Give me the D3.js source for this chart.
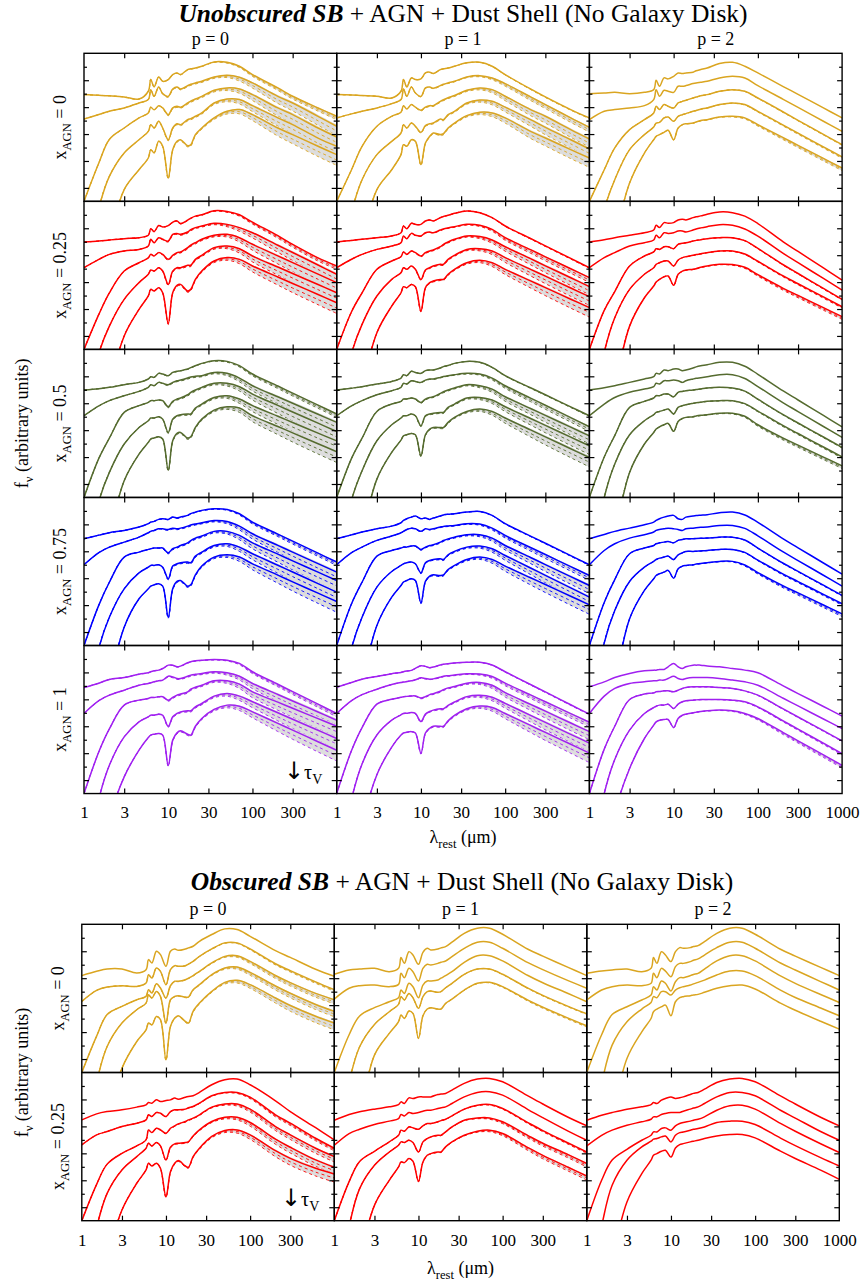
<!DOCTYPE html>
<html><head><meta charset="utf-8">
<script src="https://cdn.jsdelivr.net/npm/d3@7"></script>
<style>body{margin:0;background:#fff}svg{display:block}</style>
</head><body><script>
// ---------- DATA ----------
// wavelength grid (micron)
const lambda = [1, 1.5, 2, 3, 4.5, 5.8, 6.2, 6.8, 7.7, 8.6, 10, 11.3, 12.7, 14, 17, 18.5, 21, 25, 35, 50, 70, 100, 200, 300, 600, 1000];
const xTickVals = [1, 3, 10, 30, 100, 300, 1000];
const yMajor = [1, 3, 5, 7, 9];
const yMinor = [2, 4, 6, 8, 10];
const pLabels = ["0", "1", "2"];
const xagnTop = ["0", "0.25", "0.5", "0.75", "1"];
const xagnBottom = ["0", "0.25"];
const rowColorsTop = ["#daa520", "#ff0000", "#556b2f", "#0000ff", "#a020f0"];
const rowColorsBottom = ["#daa520", "#ff0000"];
// relative width of model spread (grey band) along the grid
const spreadProfile = [0,0,0,0,0,0,0,0,0,0.05,0.1,0.1,0.1,0.1,0.12,0.12,0.12,0.12,0.15,0.25,0.4,0.55,0.75,0.85,0.95,1];
// spread amplitude per p (columns) per curve
const unobSpreadP0 = [0.25, 0.7, 0.8, 0.8, 0.8];
const unobSpreadP1 = [0.05, 0.35, 0.6, 0.65, 0.7];
const unobSpreadP2 = [0, 0, 0.05, 0.1, 0.2];
const obsSpreadX0 = [[0, 0.12, 0.3, 0.4, 0.5], [0, 0, 0, 0.05, 0.1], [0, 0, 0, 0, 0]];
const obsSpreadX025 = [[0, 0.2, 0.4, 0.5, 0.6], [0, 0, 0.1, 0.25, 0.3], [0, 0, 0, 0, 0]];

// Unobscured SB, x_AGN = 0
const unobX0P0 = [
 [7.93,7.88,7.84,7.76,7.6,8.18,9.05,8.5,9.24,8.92,9.05,9.42,9.54,9.42,9.79,9.85,9.91,10.04,10.36,10.33,10.04,9.42,8.43,7.81,6.94,6.32],
 [6.12,6.45,6.69,6.94,7.31,7.56,8.3,7.8,8.5,8.0,7.8,8.35,8.5,8.35,8.6,8.7,8.8,8.92,9.24,9.37,9.22,8.8,7.8,7.31,6.32,5.58],
 [0,2.85,4.6,5.45,6.2,6.57,7.0,6.8,7.1,6.94,6.44,6.94,7.06,7.0,7.31,7.45,7.6,7.8,8.25,8.43,8.35,7.93,6.94,6.44,5.45,4.78],
 [-6,-0.5,1.86,3.6,4.58,5.2,5.7,5.45,5.95,5.45,4.58,5.45,5.77,5.7,6.07,6.15,6.32,6.57,7.31,7.6,7.56,7.11,6.2,5.7,4.7,4.09],
 [-14,-8,-3,0.87,2.35,3.22,3.84,3.6,4.46,4.09,1.73,3.84,4.46,4.58,4.14,4.2,4.96,5.45,6.2,6.69,6.82,6.44,5.45,4.96,4.09,3.47]];
const unobX0P1 = [
 [7.93,7.9,7.86,7.81,7.68,8.18,9.05,8.5,9.17,9.05,9.1,9.54,9.6,9.5,9.79,9.85,9.91,10.04,10.29,10.33,10.04,9.42,8.35,7.76,6.82,6.2],
 [6.2,6.5,6.69,6.94,7.26,7.56,8.35,7.8,8.5,8.05,7.8,8.43,8.5,8.4,8.6,8.7,8.8,8.92,9.24,9.34,9.17,8.75,7.76,7.19,6.2,5.5],
 [0,2.35,4.09,5.58,6.32,6.62,7.11,6.86,7.19,7.0,6.77,7.0,7.11,7.11,7.43,7.55,7.7,7.86,8.25,8.43,8.3,7.81,6.82,6.32,5.33,4.63],
 [-6,-0.8,1.6,3.47,4.46,5.08,5.7,5.45,5.82,5.58,5.13,5.63,5.77,5.82,6.12,6.07,6.44,6.69,7.31,7.53,7.43,7.0,6.07,5.5,4.58,3.89],
 [-14,-8,-3,0.87,2.35,3.47,4.21,4.09,4.58,4.46,2.73,4.34,4.83,5.08,4.96,5.03,5.45,5.82,6.37,6.62,6.57,6.2,5.2,4.71,3.84,3.22]];
const unobX0P2 = [
 [8.0,8.05,8.1,8.0,8.1,8.3,9.0,8.55,9.17,9.1,9.29,9.54,9.49,9.54,9.59,9.7,9.79,9.91,10.24,10.33,10.04,9.54,8.53,7.95,6.94,6.2],
 [6.07,6.69,6.82,6.94,7.11,7.56,8.3,7.81,8.25,8.18,8.1,8.55,8.55,8.6,8.75,8.8,8.85,8.92,9.17,9.29,9.17,8.6,7.58,6.98,5.95,5.2],
 [0,2.35,3.97,5.33,6.07,6.57,7.06,6.82,7.19,7.06,6.94,7.31,7.43,7.51,7.68,7.75,7.85,7.93,8.18,8.3,8.18,7.68,6.64,6.02,4.98,4.21],
 [-6,-0.6,1.61,3.84,4.96,5.53,5.82,5.87,6.2,6.27,5.95,6.32,6.44,6.52,6.69,6.75,6.85,6.94,7.19,7.31,7.19,6.69,5.67,5.07,4.05,3.3],
 [-14,-8,-3,1.36,3.59,4.58,4.83,4.96,5.13,5.28,4.58,5.45,5.7,5.77,5.82,5.9,6.0,6.07,6.27,6.32,6.2,5.7,4.73,4.16,3.19,2.48]];
// x_AGN = 0.25
const unobX025P0 = [
 [7.98,8.05,8.13,8.23,8.3,8.48,8.97,8.75,9.2,9.1,9.2,9.45,9.55,9.35,9.6,9.75,9.9,10.0,10.3,10.25,10.0,9.45,8.45,7.8,6.8,6.2],
 [6.07,6.69,7.06,7.31,7.43,7.68,8.18,7.93,8.3,8.18,8.05,8.55,8.62,8.55,8.72,8.9,9.05,9.17,9.37,9.29,9.05,8.67,7.74,7.2,6.27,5.58],
 [0,2.6,4.2,5.82,6.44,6.8,7.06,6.94,7.19,7.06,6.69,6.99,7.19,7.24,7.56,7.75,7.93,8.18,8.48,8.55,8.3,7.81,6.95,6.45,5.59,4.96],
 [-6,-0.3,1.73,3.72,4.96,5.58,5.9,5.82,6.07,5.82,4.83,5.82,6.07,6.07,6.25,6.25,6.69,6.99,7.56,7.68,7.48,6.94,6.12,5.64,4.82,4.21],
 [-14,-8,-3,1.0,2.97,3.97,4.46,4.34,4.58,4.21,1.93,4.21,4.76,4.83,4.34,4.46,5.2,5.82,6.57,6.82,6.69,6.2,5.38,4.9,4.08,3.47]];
const unobX025P1 = [
 [7.98,8.1,8.18,8.3,8.43,8.67,9.17,8.97,9.37,9.29,9.29,9.54,9.62,9.54,9.79,9.88,9.96,10.11,10.29,10.16,9.79,9.17,8.24,7.69,6.76,6.07],
 [6.07,6.7,7.06,7.43,7.68,7.93,8.43,8.23,8.62,8.48,8.43,8.67,8.72,8.67,8.87,8.95,9.03,9.12,9.29,9.22,8.92,8.3,7.41,6.88,5.99,5.33],
 [0,2.8,4.2,5.95,6.57,6.89,7.24,7.06,7.31,7.19,6.94,7.19,7.31,7.39,7.63,7.8,7.98,8.18,8.43,8.38,8.13,7.63,6.74,6.21,5.32,4.66],
 [-6,-0.3,1.86,3.97,5.2,5.7,6.07,5.95,6.2,5.95,5.2,5.9,6.07,6.2,6.32,6.32,6.69,6.99,7.43,7.48,7.31,6.82,5.95,5.44,4.56,3.92],
 [-14,-8,-3,1.24,3.22,4.21,4.66,4.58,4.83,4.66,2.85,4.58,4.96,5.08,5.2,5.2,5.58,5.95,6.44,6.62,6.44,5.95,5.09,4.59,3.73,3.1]];
const unobX025P2 = [
 [7.98,8.15,8.3,8.48,8.67,8.87,9.22,9.05,9.42,9.37,9.42,9.62,9.67,9.62,9.79,9.85,9.92,10.04,10.21,10.16,9.9,9.35,7.99,7.28,6.05,5.15],
 [6.07,6.82,7.19,7.68,7.93,8.13,8.48,8.3,8.67,8.62,8.67,8.8,8.8,8.72,8.87,8.95,9.03,9.12,9.27,9.22,8.95,8.42,7.13,6.44,5.27,4.4],
 [0,2.9,4.3,6.2,6.94,7.24,7.48,7.43,7.63,7.63,7.48,7.81,7.88,7.93,8.05,8.1,8.15,8.23,8.3,8.3,8.08,7.5,6.29,5.64,4.53,3.72],
 [-6,-0.2,2.35,4.46,5.58,6.07,6.32,6.44,6.57,6.57,6.2,6.64,6.82,6.89,6.99,7.05,7.1,7.19,7.31,7.31,7.09,6.55,5.46,4.88,3.9,3.17],
 [-14,-8,-3,1.73,3.84,4.71,5.0,5.2,5.4,5.45,4.76,5.58,5.82,5.9,5.95,6.0,6.1,6.2,6.32,6.3,6.1,5.55,4.54,4.01,3.1,2.43]];
// x_AGN = 0.5
const unobX05P0 = [
 [7.98,8.08,8.18,8.38,8.55,8.8,8.97,8.92,9.22,9.17,9.05,9.29,9.37,9.42,9.54,9.65,9.79,9.96,10.16,10.11,9.79,9.17,8.28,7.75,6.86,6.2],
 [6.07,6.8,7.19,7.56,7.88,8.18,8.38,8.3,8.55,8.48,8.38,8.55,8.67,8.72,8.87,8.95,9.0,9.05,9.29,9.22,8.87,8.3,7.48,7.0,6.18,5.58],
 [0,2.9,4.4,6.32,6.82,7.06,7.19,7.19,7.24,7.19,6.74,7.14,7.31,7.39,7.63,7.8,7.98,8.18,8.48,8.48,8.23,7.68,6.84,6.35,5.52,4.9],
 [-6,-0.3,1.86,3.97,5.2,5.7,5.9,5.9,6.0,5.82,4.83,5.82,6.07,6.15,6.2,6.2,6.64,6.94,7.43,7.56,7.31,6.82,6.03,5.57,4.78,4.2],
 [-14,-8,-3,1.24,3.22,4.09,4.34,4.41,4.51,4.34,2.03,4.21,4.76,4.83,4.41,4.51,5.2,5.82,6.49,6.74,6.64,6.07,5.27,4.8,3.99,3.4]];
const unobX05P1 = [
 [7.98,8.12,8.23,8.43,8.62,8.87,9.12,9.05,9.37,9.29,9.22,9.42,9.47,9.47,9.62,9.72,9.8,9.96,10.11,10.04,9.67,9.05,8.15,7.63,6.73,6.07],
 [6.07,6.8,7.19,7.63,7.93,8.18,8.48,8.43,8.67,8.62,8.55,8.72,8.8,8.8,8.92,8.98,9.05,9.12,9.22,9.17,8.87,8.3,7.38,6.85,5.93,5.25],
 [0,2.9,4.4,6.39,6.94,7.14,7.31,7.31,7.39,7.31,7.06,7.31,7.43,7.48,7.73,7.85,7.98,8.13,8.38,8.3,8.05,7.48,6.61,6.1,5.22,4.58],
 [-6,-0.2,1.98,4.21,5.4,5.9,6.07,6.07,6.2,6.07,5.33,6.07,6.2,6.25,6.32,6.32,6.69,6.94,7.39,7.43,7.24,6.74,5.87,5.36,4.48,3.84],
 [-14,-8,-3,1.36,3.35,4.26,4.58,4.66,4.76,4.66,3.1,4.66,5.08,5.2,5.2,5.2,5.58,5.95,6.39,6.57,6.39,5.9,5.02,4.5,3.62,2.97]];
const unobX05P2 = [
 [7.98,8.15,8.3,8.55,8.8,8.97,9.22,9.17,9.47,9.42,9.54,9.54,9.42,9.47,9.62,9.7,9.78,9.86,10.04,10.04,9.75,9.15,7.91,7.24,6.09,5.25],
 [6.07,6.94,7.43,7.81,8.05,8.23,8.48,8.43,8.67,8.67,8.72,8.67,8.55,8.67,8.8,8.85,8.9,8.97,9.12,9.12,8.84,8.24,7.03,6.38,5.27,4.46],
 [0,3.0,4.6,6.69,7.14,7.39,7.56,7.56,7.68,7.68,7.48,7.81,7.88,7.93,7.98,8.02,8.06,8.13,8.18,8.13,7.9,7.3,6.15,5.53,4.49,3.72],
 [-6,0,2.48,4.66,5.7,6.15,6.32,6.39,6.49,6.57,6.2,6.69,6.82,6.89,6.99,7.03,7.08,7.14,7.19,7.19,6.97,6.42,5.33,4.75,3.75,3.02],
 [-14,-8,-3,1.86,3.97,4.83,5.08,5.25,5.4,5.5,4.91,5.65,5.87,5.95,6.0,6.05,6.1,6.15,6.25,6.25,6.03,5.4,4.41,3.89,3.0,2.35]];
// x_AGN = 0.75
const unobX075P0 = [
 [7.93,8.2,8.38,8.55,8.8,9.05,9.17,9.22,9.37,9.42,9.37,9.54,9.47,9.54,9.67,9.8,9.91,10.04,10.16,10.11,9.79,9.17,8.28,7.75,6.86,6.2],
 [6.0,6.9,7.31,7.68,8.05,8.38,8.48,8.55,8.67,8.67,8.62,8.72,8.67,8.72,8.87,8.95,9.03,9.12,9.29,9.22,8.87,8.3,7.44,6.94,6.08,5.45],
 [0,3.0,4.7,6.57,6.94,7.14,7.19,7.24,7.24,7.24,6.89,7.19,7.31,7.43,7.63,7.8,7.98,8.13,8.48,8.48,8.18,7.63,6.79,6.29,5.45,4.83],
 [-6,-0.2,2.1,4.21,5.4,5.82,5.95,5.95,6.0,5.82,4.96,5.9,6.07,6.15,6.2,6.15,6.64,6.94,7.43,7.56,7.31,6.82,5.96,5.46,4.6,3.97],
 [-14,-8,-3,1.36,3.47,4.21,4.41,4.51,4.58,4.41,2.1,4.21,4.76,4.83,4.41,4.51,5.25,5.9,6.57,6.74,6.57,6.07,5.23,4.73,3.89,3.27]];
const unobX075P1 = [
 [7.93,8.22,8.43,8.67,8.87,9.12,9.29,9.42,9.54,9.62,9.42,9.47,9.37,9.47,9.62,9.7,9.75,9.79,9.91,9.96,9.67,9.05,8.13,7.6,6.68,6.0],
 [6.0,6.9,7.31,7.81,8.13,8.38,8.48,8.62,8.72,8.67,8.48,8.67,8.62,8.67,8.8,8.85,8.88,8.92,9.05,9.02,8.72,8.18,7.28,6.76,5.86,5.2],
 [0,3.1,4.7,6.64,7.06,7.24,7.31,7.31,7.39,7.39,7.14,7.31,7.43,7.48,7.68,7.8,7.92,8.05,8.23,8.23,7.98,7.43,6.54,6.01,5.12,4.46],
 [-6,-0.2,2.1,4.34,5.5,5.95,6.07,6.15,6.2,6.07,5.4,6.15,6.32,6.39,6.44,6.39,6.74,6.99,7.31,7.39,7.19,6.69,5.76,5.21,4.28,3.59],
 [-14,-8,-3,1.49,3.59,4.46,4.71,4.83,4.96,4.83,3.17,4.76,5.15,5.25,5.2,5.25,5.65,5.95,6.39,6.57,6.39,5.9,5.03,4.53,3.66,3.02]];
const unobX075P2 = [
 [7.93,8.25,8.48,8.72,8.97,9.17,9.29,9.42,9.54,9.62,9.67,9.42,9.37,9.54,9.62,9.65,9.68,9.72,9.86,9.91,9.7,9.15,7.92,7.26,6.13,5.3],
 [6.0,7.06,7.56,7.98,8.23,8.43,8.55,8.62,8.67,8.72,8.67,8.62,8.55,8.67,8.72,8.75,8.78,8.8,8.92,8.92,8.7,8.15,6.95,6.31,5.22,4.41],
 [0,3.2,4.9,6.82,7.24,7.43,7.56,7.63,7.68,7.73,7.63,7.81,7.88,7.93,7.93,7.95,7.97,7.98,8.05,8.05,7.84,7.24,6.11,5.51,4.48,3.72],
 [-6,0.2,2.6,4.76,5.82,6.25,6.39,6.49,6.57,6.64,6.39,6.74,6.89,6.99,6.99,7.01,7.03,7.06,7.14,7.14,6.92,6.35,5.3,4.75,3.8,3.1],
 [-14,-8,-3,1.98,4.09,4.96,5.2,5.33,5.45,5.58,5.0,5.7,5.9,5.95,6.0,6.05,6.1,6.15,6.25,6.25,5.98,5.42,4.43,3.91,3.01,2.35]];
// x_AGN = 1
const unobX1P0 = [
 [7.88,8.2,8.48,8.62,8.87,8.97,9.05,9.12,9.17,9.29,9.54,9.54,9.42,9.47,9.72,9.8,9.86,9.91,9.96,9.91,9.67,9.05,8.12,7.57,6.64,5.95],
 [5.95,6.9,7.31,7.68,8.05,8.18,8.23,8.3,8.38,8.43,8.72,8.67,8.55,8.55,8.72,8.8,8.86,8.92,9.05,8.97,8.72,8.18,7.36,6.88,6.06,5.45],
 [0,3.1,4.8,6.57,6.94,7.06,7.14,7.14,7.19,7.19,6.94,7.14,7.31,7.39,7.56,7.75,7.9,8.05,8.38,8.38,8.13,7.56,6.79,6.34,5.57,5.0],
 [-6,-0.4,2.1,4.21,5.33,5.7,5.82,5.82,5.9,5.82,5.0,5.7,5.95,6.07,6.15,6.15,6.44,6.69,7.24,7.43,7.24,6.82,6.0,5.52,4.7,4.09],
 [-14,-8,-2,1.24,3.22,4.16,4.34,4.41,4.46,4.34,2.1,3.97,4.51,4.66,4.41,4.34,5.0,5.58,6.25,6.57,6.49,6.07,5.21,4.71,3.85,3.22]];
const unobX1P1 = [
 [7.9,8.25,8.5,8.7,8.9,9.0,9.05,9.1,9.15,9.3,9.5,9.45,9.35,9.4,9.55,9.6,9.65,9.7,9.75,9.75,9.55,9.05,8.1,7.55,6.6,5.9],
 [5.95,6.9,7.35,7.75,8.1,8.25,8.28,8.32,8.38,8.45,8.6,8.55,8.5,8.52,8.65,8.72,8.76,8.8,8.9,8.88,8.7,8.2,7.33,6.82,5.94,5.3],
 [0,3.2,4.9,6.65,7.0,7.15,7.2,7.22,7.25,7.25,7.1,7.2,7.35,7.42,7.6,7.72,7.85,7.95,8.2,8.25,8.05,7.5,6.63,6.12,5.24,4.6],
 [-6,-0.4,2.2,4.35,5.45,5.85,5.95,5.97,6.02,5.95,5.35,5.9,6.1,6.2,6.3,6.3,6.55,6.8,7.2,7.3,7.15,6.7,5.81,5.29,4.4,3.75],
 [-14,-8,-2.5,1.4,3.45,4.35,4.5,4.55,4.6,4.5,3.0,4.5,4.85,5.0,5.0,5.0,5.4,5.8,6.3,6.5,6.4,5.95,5.06,4.54,3.66,3.0]];
const unobX1P2 = [
 [7.93,8.3,8.62,8.92,9.12,9.17,9.17,9.22,9.22,9.42,9.67,9.42,9.29,9.42,9.54,9.54,9.54,9.47,9.42,9.29,9.17,8.97,8.0,7.43,6.47,5.75],
 [5.95,7.24,7.81,8.18,8.3,8.38,8.38,8.43,8.43,8.55,8.72,8.55,8.48,8.55,8.62,8.62,8.62,8.62,8.55,8.43,8.3,8.05,7.08,6.51,5.54,4.83],
 [0,3.3,5.0,6.99,7.39,7.48,7.56,7.58,7.63,7.63,7.56,7.68,7.81,7.88,7.93,7.93,7.93,7.93,7.88,7.81,7.63,7.31,6.29,5.69,4.67,3.92],
 [-6,0,2.53,4.71,5.95,6.39,6.49,6.57,6.57,6.64,6.32,6.64,6.82,6.89,6.94,6.96,6.98,6.99,6.99,6.94,6.82,6.44,5.4,4.79,3.74,2.97],
 [-14,-7,-1.5,1.86,4.09,5.08,5.33,5.45,5.5,5.5,4.91,5.58,5.82,5.9,6.0,6.05,6.1,6.15,6.2,6.15,5.95,5.58,4.53,3.92,2.87,2.1]];

// Obscured SB, x_AGN = 0
const obsX0P0 = [
 [7.19,7.51,7.68,7.68,7.39,7.63,8.38,8.13,9.0,8.75,7.88,9.0,9.17,9.07,9.17,9.25,9.37,9.74,10.24,10.66,10.61,10.11,9.05,8.54,7.66,7.14],
 [5.28,6.1,6.34,6.44,6.39,6.64,7.26,7.01,7.76,7.51,6.52,7.63,7.93,7.88,7.93,8.05,8.25,8.62,9.17,9.62,9.62,9.17,8.07,7.56,6.73,6.15],
 [0,2.7,4.3,4.91,5.4,5.65,6.15,5.9,6.59,6.27,5.53,6.44,6.77,6.77,6.89,7.0,7.19,7.51,8.13,8.62,8.67,8.25,7.2,6.67,5.87,5.4],
 [-6,-0.7,1.93,3.67,4.66,5.15,5.77,5.53,6.02,5.65,3.67,5.4,5.65,5.7,5.6,5.6,6.15,6.52,7.26,7.76,7.83,7.43,6.42,5.88,5.05,4.54],
 [-14,-8,-3.5,0.32,2.3,3.17,3.67,3.54,4.16,3.92,0.94,3.42,4.04,4.21,3.79,3.67,4.54,5.15,6.02,6.69,6.84,6.52,5.53,4.97,4.17,3.67]];
const obsX0P1 = [
 [7.29,7.61,7.68,7.73,7.48,7.73,8.53,8.1,8.97,8.72,8.03,8.92,9.22,9.1,9.17,9.25,9.34,9.67,10.33,10.71,10.71,10.26,9.15,8.64,7.8,7.19],
 [5.45,6.25,6.44,6.49,6.37,6.54,7.36,7.04,7.73,7.48,6.79,7.73,8.03,7.98,8.1,8.18,8.28,8.6,9.22,9.67,9.67,9.22,8.15,7.64,6.82,6.25],
 [0,2.8,4.2,4.81,5.25,5.55,6.12,5.87,6.62,6.37,5.55,6.49,6.79,6.79,6.86,7.0,7.19,7.48,8.18,8.67,8.67,8.28,7.2,6.66,5.86,5.25],
 [-6,-0.7,1.91,3.57,4.51,5.06,5.63,5.38,5.87,5.55,4.76,5.63,6.0,6.05,5.95,6.0,6.29,6.62,7.29,7.68,7.68,7.29,6.26,5.72,4.91,4.36],
 [-14,-8,-3.5,1.29,2.9,3.77,4.26,4.01,4.56,4.39,2.53,4.21,4.71,4.81,4.71,4.71,5.13,5.45,6.12,6.62,6.69,6.37,5.37,4.85,4.04,3.47]];
const obsX0P2 = [
 [7.36,7.53,7.61,7.68,7.48,7.73,8.53,8.1,8.97,8.72,8.23,8.97,9.27,9.22,9.27,9.35,9.42,9.72,10.33,10.71,10.71,10.26,9.15,8.64,7.8,7.19],
 [5.38,6.12,6.37,6.49,6.44,6.62,7.36,7.04,7.73,7.53,7.11,7.86,8.1,8.1,8.23,8.33,8.43,8.72,9.27,9.67,9.67,9.22,8.13,7.61,6.75,6.12],
 [0,2.8,4.3,4.88,5.38,5.75,6.37,6.12,6.79,6.62,6.05,6.74,7.04,7.04,7.19,7.28,7.36,7.68,8.28,8.67,8.67,8.28,7.17,6.62,5.79,5.2],
 [-6,-0.8,2.03,3.77,4.71,5.2,5.63,5.55,6.0,6.0,5.75,6.12,6.29,6.37,6.49,6.58,6.69,6.86,7.24,7.53,7.53,7.19,6.12,5.57,4.79,4.21],
 [-14,-8,-3.5,1.04,3.02,4.01,4.51,4.71,4.88,5.0,4.21,5.25,5.55,5.63,5.7,5.75,5.8,5.95,6.25,6.44,6.49,6.2,5.15,4.62,3.8,3.22]];
// Obscured SB, x_AGN = 0.25
const obsX025P0 = [
 [7.48,7.93,8.1,8.23,8.43,8.6,8.77,8.72,8.97,8.85,8.92,8.97,9.1,9.02,9.17,9.22,9.27,9.52,10.09,10.46,10.51,10.09,8.9,8.1,6.9,6.0],
 [5.63,6.37,6.62,6.99,7.24,7.48,7.86,7.73,8.03,7.98,7.73,8.1,8.23,8.23,8.28,8.38,8.48,8.72,9.27,9.52,9.52,9.17,7.86,7.24,6.12,5.38],
 [0,2.7,4.2,5.0,5.55,6.0,6.74,6.54,6.86,6.74,6.49,6.86,7.04,7.19,7.36,7.48,7.61,7.86,8.43,8.67,8.67,8.28,6.99,6.37,5.38,4.76],
 [-6,-0.5,2.03,3.77,4.76,5.38,5.75,5.55,5.8,5.55,4.51,5.45,5.7,5.75,5.8,5.87,6.29,6.74,7.36,7.68,7.68,7.29,6.05,5.45,4.51,3.97],
 [-14,-8,-3,0.79,2.78,3.77,4.26,4.06,4.26,3.89,1.78,3.64,4.26,4.46,4.06,3.97,4.76,5.38,6.25,6.69,6.74,6.37,5.2,4.63,3.89,3.47]];
const obsX025P1 = [
 [7.46,7.88,8.08,8.28,8.45,8.62,8.82,8.7,9.12,9.07,9.19,9.19,9.19,9.19,9.37,9.4,9.44,9.69,10.19,10.51,10.56,10.31,9.26,8.66,7.68,7.04],
 [5.6,6.47,6.79,7.14,7.39,7.58,7.88,7.78,8.03,7.96,8.03,8.13,8.2,8.2,8.33,8.38,8.45,8.7,9.19,9.52,9.57,9.32,8.25,7.65,6.65,5.97],
 [0,2.9,4.4,5.15,5.85,6.34,6.72,6.64,6.96,6.89,6.79,7.04,7.21,7.21,7.34,7.43,7.53,7.78,8.28,8.57,8.62,8.33,7.28,6.69,5.77,5.1],
 [-6,-0.4,2.38,4.11,5.1,5.6,5.85,5.8,5.97,5.8,5.1,5.85,6.1,6.22,6.34,6.34,6.59,6.96,7.46,7.63,7.63,7.34,6.32,5.75,4.9,4.24],
 [-14,-8,-3,1.14,3.0,3.99,4.36,4.31,4.61,4.41,2.92,4.36,4.86,4.98,5.1,5.1,5.48,5.85,6.34,6.64,6.72,6.47,5.43,4.85,3.97,3.32]];
const obsX025P2 = [
 [7.46,7.83,8.03,8.28,8.45,8.62,8.77,8.7,8.95,9.07,9.19,9.07,9.12,9.19,9.37,9.45,9.52,9.76,10.26,10.51,10.56,10.31,9.26,8.66,7.68,7.04],
 [5.55,6.34,6.72,7.09,7.34,7.53,7.71,7.71,7.88,7.96,8.03,8.03,8.03,8.13,8.28,8.36,8.45,8.7,9.19,9.52,9.52,9.27,8.2,7.62,6.62,5.97],
 [0,3.0,4.5,5.3,5.97,6.34,6.59,6.59,6.84,6.89,6.72,7.04,7.21,7.29,7.39,7.46,7.53,7.71,8.2,8.53,8.57,8.28,7.22,6.64,5.71,5.06],
 [-6,-0.4,2.63,4.49,5.48,5.9,6.05,6.1,6.22,6.29,5.85,6.34,6.54,6.59,6.72,6.78,6.84,6.96,7.29,7.39,7.39,7.14,6.13,5.57,4.68,4.06],
 [-14,-8,-3,1.39,3.49,4.49,4.86,4.98,5.15,5.23,4.73,5.4,5.65,5.72,5.85,5.9,5.97,6.1,6.29,6.39,6.39,6.15,5.16,4.62,3.75,3.07]];

// ---------- CHART ----------
const FONT = "'Liberation Serif','Times New Roman',serif";
const svg = d3.select("body").append("svg").attr("width", 864).attr("height", 1283)
  .style("font-family", FONT);
svg.append("rect").attr("width", 864).attr("height", 1283).attr("fill", "#fff");

const allPanels = [unobX0P0,unobX0P1,unobX0P2,unobX025P0,unobX025P1,unobX025P2,unobX05P0,unobX05P1,unobX05P2,
  unobX075P0,unobX075P1,unobX075P2,unobX1P0,unobX1P1,unobX1P2,obsX0P0,obsX0P1,obsX0P2,obsX025P0,obsX025P1,obsX025P2];
allPanels.forEach((p, pi) => p.forEach((c, ci) => { if (c.length !== lambda.length) throw new Error("len " + pi + "/" + ci + " = " + c.length); }));

const CURVE = d3.curveCatmullRom.alpha(0.5);

function subText(sel, main, sub, rest, fs) {
  sel.append("tspan").text(main);
  sel.append("tspan").attr("font-size", fs * 0.7).attr("dy", fs * 0.25).text(sub);
  if (rest) sel.append("tspan").attr("dy", -fs * 0.25).text(rest);
}

function drawBlock(cfg, bIdx) {
  const { left, top, pw, rh, rows, colors, rowLabels, spreads } = cfg;
  const nRows = rows.length;
  // title
  const t = svg.append("text").attr("x", cfg.titleX).attr("y", cfg.titleY)
    .attr("text-anchor", "middle").attr("font-size", 25.5);
  t.append("tspan").attr("font-weight", "bold").attr("font-style", "italic").text(cfg.titleBold);
  t.append("tspan").text(" + AGN + Dust Shell (No Galaxy Disk)");
  // column labels
  pLabels.forEach((p, j) => {
    svg.append("text").attr("x", left + pw * (j + 0.5)).attr("y", cfg.pY)
      .attr("text-anchor", "middle").attr("font-size", 18).text("p = " + p);
  });
  rows.forEach((row, i) => {
    const y0 = top + rh * i;
    const y = d3.scaleLinear().domain([0, 11]).range([y0 + rh, y0]);
    // row label
    const rl = svg.append("text").attr("font-size", 18).attr("text-anchor", "middle")
      .attr("transform", `translate(${cfg.rowLabelX},${y0 + rh / 2}) rotate(-90)`);
    subText(rl, "x", "AGN", " = " + rowLabels[i], 18);
    row.forEach((panel, j) => {
      const x0 = left + pw * j;
      const x = d3.scaleLog().domain([1, 1000]).range([x0, x0 + pw]);
      const clipId = `clip-${bIdx}-${i}-${j}`;
      svg.append("clipPath").attr("id", clipId).append("rect")
        .attr("x", x0).attr("y", y0).attr("width", pw).attr("height", rh);
      const g = svg.append("g").attr("clip-path", `url(#${clipId})`);
      const col = colors[i];
      const sp = spreads(i, j);
      // bands
      panel.forEach((vals, k) => {
        const s = sp[k];
        if (s <= 0) return;
        const area = d3.area().x((d, n) => x(lambda[n]))
          .y0((d, n) => y(d - s * spreadProfile[n]))
          .y1((d, n) => y(d + 0.18 * s * spreadProfile[n]))
          .curve(CURVE);
        g.append("path").attr("d", area(vals)).attr("fill", "#dddddd").attr("stroke", "none");
        [0.5, 1].forEach(f => {
          const ln = d3.line().x((d, n) => x(lambda[n])).y((d, n) => y(d - f * s * spreadProfile[n]))
            .curve(CURVE);
          g.append("path").attr("d", ln(vals)).attr("fill", "none").attr("stroke", col)
            .attr("stroke-width", 0.9).attr("stroke-dasharray", "3,3");
        });
      });
      // main curves
      const line = d3.line().x((d, n) => x(lambda[n])).y(d => y(d)).curve(CURVE);
      panel.forEach(vals => {
        g.append("path").attr("d", line(vals)).attr("fill", "none").attr("stroke", col)
          .attr("stroke-width", 1.5).attr("stroke-linejoin", "round");
      });
      // ticks (inward)
      const tk = svg.append("g");
      tk.append("g").attr("transform", `translate(0,${y0 + rh})`)
        .call(d3.axisBottom(x).tickValues([3, 10, 30, 100, 300]).tickSize(-5).tickFormat(""));
      tk.append("g").attr("transform", `translate(0,${y0})`)
        .call(d3.axisTop(x).tickValues([3, 10, 30, 100, 300]).tickSize(-5).tickFormat(""));
      tk.append("g").attr("transform", `translate(${x0},0)`)
        .call(d3.axisLeft(y).tickValues(yMajor).tickSize(-5).tickFormat(""));
      tk.append("g").attr("transform", `translate(${x0},0)`)
        .call(d3.axisLeft(y).tickValues(yMinor).tickSize(-3).tickFormat(""));
      tk.append("g").attr("transform", `translate(${x0 + pw},0)`)
        .call(d3.axisRight(y).tickValues(yMajor).tickSize(-5).tickFormat(""));
      tk.append("g").attr("transform", `translate(${x0 + pw},0)`)
        .call(d3.axisRight(y).tickValues(yMinor).tickSize(-3).tickFormat(""));
      tk.selectAll(".domain").remove();
      tk.selectAll("line").attr("stroke", "#000").attr("stroke-width", 1.2);
      // border
      svg.append("rect").attr("x", x0).attr("y", y0).attr("width", pw).attr("height", rh)
        .attr("fill", "none").attr("stroke", "#000").attr("stroke-width", 1.4);
      // tick labels on bottom row
      if (i === nRows - 1) {
        const vals = j < 2 ? xTickVals.slice(0, 6) : xTickVals;
        const ax = svg.append("g").attr("transform", `translate(0,${y0 + rh})`)
          .call(d3.axisBottom(x).tickValues(vals).tickSize(0).tickPadding(cfg.tickPad).tickFormat(d3.format("d")));
        ax.select(".domain").remove();
        ax.attr("font-family", FONT).attr("font-size", 17);
        ax.selectAll("text").attr("fill", "#000");
      }
    });
  });
  // y axis label
  const yl = svg.append("text").attr("font-size", 18).attr("text-anchor", "middle")
    .attr("transform", `translate(${cfg.yLabelX},${top + rh * nRows / 2}) rotate(-90)`);
  subText(yl, "f", "ν", " (arbitrary units)", 18);
  // x axis label
  const xl = svg.append("text").attr("font-size", 18).attr("text-anchor", "middle")
    .attr("x", left + pw * 1.5).attr("y", cfg.xLabelY);
  subText(xl, "λ", "rest", " (μm)", 18);
  // tau annotation
  const ta = svg.append("text").attr("font-size", 20)
    .attr("x", cfg.tauX).attr("y", cfg.tauY);
  ta.append("tspan").attr("font-family", "'DejaVu Sans', sans-serif").attr("font-size", 24).text("↓");
  subText(ta, "τ", "V", null, 20);
}

drawBlock({
  titleBold: "Unobscured SB", titleX: 463, titleY: 22, pY: 45,
  left: 84, top: 53.3, pw: 252.7, rh: 148.05,
  rows: [[unobX0P0, unobX0P1, unobX0P2], [unobX025P0, unobX025P1, unobX025P2], [unobX05P0, unobX05P1, unobX05P2],
         [unobX075P0, unobX075P1, unobX075P2], [unobX1P0, unobX1P1, unobX1P2]],
  colors: rowColorsTop, rowLabels: xagnTop,
  spreads: (i, j) => [unobSpreadP0, unobSpreadP1, unobSpreadP2][j],
  rowLabelX: 66, yLabelX: 28, xLabelY: 843, tickPad: 12, tauX: 284, tauY: 779
}, 0);

drawBlock({
  titleBold: "Obscured SB", titleX: 462, titleY: 890, pY: 915,
  left: 81.8, top: 924.3, pw: 252.5, rh: 148.2,
  rows: [[obsX0P0, obsX0P1, obsX0P2], [obsX025P0, obsX025P1, obsX025P2]],
  colors: rowColorsBottom, rowLabels: xagnBottom,
  spreads: (i, j) => [obsSpreadX0, obsSpreadX025][i][j],
  rowLabelX: 64, yLabelX: 28, xLabelY: 1274, tickPad: 13, tauX: 281, tauY: 1206
}, 1);
</script></body></html>
